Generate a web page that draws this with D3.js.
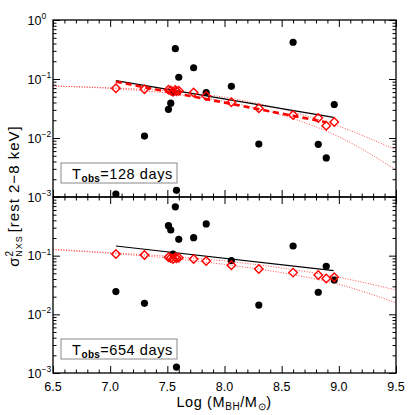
<!DOCTYPE html>
<html><head><meta charset="utf-8">
<script src="https://cdn.jsdelivr.net/npm/d3@7"></script>
<style>
body{margin:0;background:#fff}
svg{display:block}
text{font-family:"Liberation Sans",Arial,Helvetica,sans-serif;fill:#000}
</style>
</head><body>
<svg id="c" width="415" height="415"></svg>
<script>
// ---------------- data ----------------
const masses   = [7.05, 7.30, 7.51, 7.53, 7.55, 7.57, 7.58, 7.60, 7.73, 7.84, 8.06, 8.30, 8.60, 8.82, 8.89, 8.96];
const dots128  = [0.00112, 0.0108, 0.0306, 0.039, 0.060, 0.327, 0.0013, 0.107, 0.155, 0.059, 0.075, 0.0079, 0.42, 0.0078, 0.0046, 0.037];
const diam128  = [0.0695, 0.0669, 0.066, 0.064, 0.061, 0.065, 0.062, 0.063, 0.0588, 0.0515, 0.0403, 0.032, 0.0245, 0.0218, 0.0162, 0.0187];
const dots654  = [0.0244, 0.0154, 0.324, 0.274, 0.106, 0.68, 0.00126, 0.19, 0.203, 0.347, 0.082, 0.0144, 0.146, 0.0238, 0.066, 0.0385];
const diam654  = [0.107, 0.103, 0.094, 0.091, 0.088, 0.094, 0.090, 0.092, 0.088, 0.081, 0.0686, 0.0593, 0.0514, 0.0469, 0.0407, 0.0428];

const fitX     = [7.05, 8.955];
const fit128   = [0.094, 0.0224];
const fit654   = [0.146, 0.0555];
const dashX    = [7.05, 8.89];
const dash128  = [0.090, 0.0185];

const modelX      = [6.5, 7.0, 7.5, 8.0, 8.5, 9.0, 9.5];
const modelHi128  = [0.0759, 0.0708, 0.0631, 0.0490, 0.0309, 0.0158, 0.0063];
const modelLo128  = [0.0759, 0.0692, 0.0575, 0.0417, 0.0245, 0.0105, 0.00288];
const modelHi654  = [0.1288, 0.1122, 0.0977, 0.0813, 0.0617, 0.0427, 0.0260];
const modelLo654  = [0.1259, 0.1096, 0.0912, 0.0708, 0.0513, 0.0324, 0.0158];

const xMajorTicks = [6.5, 7.0, 7.5, 8.0, 8.5, 9.0, 9.5];
const yDecades    = [1, 0.1, 0.01, 0.001];
const panelLabels = ["128", "654"];

// ---------------- layout ----------------
const svg = d3.select("#c");
const L = 53, R = 396;
const panels = [
  {top: 20, bottom: 197, dots: dots128, diam: diam128, fit: fit128, dash: dash128, hi: modelHi128, lo: modelLo128, label: panelLabels[0], yLabels: [1, 0.1, 0.01, 0.001]},
  {top: 197, bottom: 373, dots: dots654, diam: diam654, fit: fit654, dash: null, hi: modelHi654, lo: modelLo654, label: panelLabels[1], yLabels: [0.1, 0.01, 0.001]}
];

const x = d3.scaleLinear().domain([6.5, 9.5]).range([L, R]);
const xMinor = d3.range(65, 96).map(v => v / 10).filter(v => !xMajorTicks.some(m => Math.abs(m - v) < 1e-6));
const supMinus = "\u2212";

panels.forEach((p, i) => {
  const y = d3.scaleLog().domain([0.001, 1]).range([p.bottom, p.top]);
  const yMinor = [];
  [0.001, 0.01, 0.1].forEach(d => { for (let k = 2; k <= 9; k++) yMinor.push(d * k); });

  const cid = "clip" + i;
  svg.append("clipPath").attr("id", cid).append("rect")
    .attr("x", L).attr("y", p.top).attr("width", R - L).attr("height", p.bottom - p.top);
  const g = svg.append("g").attr("clip-path", `url(#${cid})`);

  const line = d3.line().x(d => x(d[0])).y(d => y(d[1]));
  const curve = d3.line().x(d => x(d[0])).y(d => y(d[1])).curve(d3.curveMonotoneX);

  // model curves (dotted)
  [p.hi, p.lo].forEach(arr => {
    g.append("path").datum(modelX.map((v, k) => [v, arr[k]]))
      .attr("d", curve).attr("fill", "none")
      .attr("stroke", "#ff5050").attr("stroke-width", 1).attr("stroke-dasharray", "1,1.6");
  });

  // black points
  g.selectAll("circle.pt").data(masses.map((m, k) => [m, p.dots[k]])).enter()
    .append("circle").attr("class", "pt")
    .attr("cx", d => x(d[0])).attr("cy", d => y(d[1])).attr("r", 3.6).attr("fill", "#000");

  // black fit
  g.append("path").datum(fitX.map((v, k) => [v, p.fit[k]]))
    .attr("d", line).attr("fill", "none").attr("stroke", "#000").attr("stroke-width", 1.2);

  // red dashed
  if (p.dash) {
    g.append("path").datum(dashX.map((v, k) => [v, p.dash[k]]))
      .attr("d", line).attr("fill", "none").attr("stroke", "#ff0000")
      .attr("stroke-width", 2.6).attr("stroke-dasharray", "6,4");
  }

  // diamonds
  const sym = d3.symbol().type(d3.symbolDiamond2).size(46);
  g.selectAll("path.dm").data(masses.map((m, k) => [m, p.diam[k]])).enter()
    .append("path").attr("class", "dm")
    .attr("transform", d => `translate(${x(d[0])},${y(d[1])})`)
    .attr("d", sym).attr("fill", "none").attr("stroke", "#ff0000").attr("stroke-width", 1.4);

  // frame
  svg.append("rect").attr("x", L).attr("y", p.top).attr("width", R - L).attr("height", p.bottom - p.top)
    .attr("fill", "none").attr("stroke", "#000").attr("stroke-width", 1.3);

  // x ticks (inward) on bottom and top edges
  const axB = svg.append("g").attr("transform", `translate(0,${p.bottom})`)
    .call(d3.axisBottom(x).tickValues(xMajorTicks).tickSize(-7).tickFormat(""));
  const axBm = svg.append("g").attr("transform", `translate(0,${p.bottom})`)
    .call(d3.axisBottom(x).tickValues(xMinor).tickSize(-3.5).tickFormat(""));
  const axT = svg.append("g").attr("transform", `translate(0,${p.top})`)
    .call(d3.axisTop(x).tickValues(xMajorTicks).tickSize(-7).tickFormat(""));
  const axTm = svg.append("g").attr("transform", `translate(0,${p.top})`)
    .call(d3.axisTop(x).tickValues(xMinor).tickSize(-3.5).tickFormat(""));
  // y ticks
  const axL = svg.append("g").attr("transform", `translate(${L},0)`)
    .call(d3.axisLeft(y).tickValues(yDecades).tickSize(-7).tickFormat(""));
  const axLm = svg.append("g").attr("transform", `translate(${L},0)`)
    .call(d3.axisLeft(y).tickValues(yMinor).tickSize(-3.5).tickFormat(""));
  const axR = svg.append("g").attr("transform", `translate(${R},0)`)
    .call(d3.axisRight(y).tickValues(yDecades).tickSize(-7).tickFormat(""));
  const axRm = svg.append("g").attr("transform", `translate(${R},0)`)
    .call(d3.axisRight(y).tickValues(yMinor).tickSize(-3.5).tickFormat(""));
  [axB, axBm, axT, axTm, axL, axLm, axR, axRm].forEach(a => {
    a.select(".domain").remove();
    a.selectAll("line").attr("stroke", "#000").attr("stroke-width", 1);
  });

  // y tick labels 10^n
  p.yLabels.forEach(v => {
    const e = Math.round(Math.log10(v));
    svg.append("text").attr("x", 41.5).attr("y", y(v) + 4.5)
      .attr("text-anchor", "end").attr("font-size", 12.5).text("10");
    svg.append("text").attr("x", 41.5).attr("y", y(v) - 1)
      .attr("text-anchor", "start").attr("font-size", 8.5)
      .text(e === 0 ? "0" : supMinus + Math.abs(e));
  });

  // legend box
  const by = p.bottom - 34;
  svg.append("rect").attr("x", 61).attr("y", by).attr("width", 116).attr("height", 20)
    .attr("fill", "#fff").attr("stroke", "#888").attr("stroke-width", 1);
  const lt = svg.append("text").attr("x", 72).attr("y", by + 15.5).attr("font-size", 14.5)
    .attr("letter-spacing", 0.6);
  lt.append("tspan").text("T");
  lt.append("tspan").attr("font-size", 10).attr("dy", 3).attr("font-weight", "bold")
    .attr("letter-spacing", 0.3).text("obs");
  lt.append("tspan").attr("dy", -3).text("=" + p.label + " days");
});

// x tick labels
xMajorTicks.forEach(v => {
  svg.append("text").attr("x", x(v)).attr("y", 391).attr("text-anchor", "middle")
    .attr("font-size", 12.5).text(d3.format(".1f")(v));
});

// x axis title
const xt = svg.append("text").attr("x", 224).attr("y", 407).attr("text-anchor", "middle")
  .attr("font-size", 14.5).attr("letter-spacing", 0.6);
xt.append("tspan").text("Log (M");
xt.append("tspan").attr("font-size", 10).attr("dy", 3).text("BH");
xt.append("tspan").attr("dy", -3).text("/M");
xt.append("tspan").attr("font-size", 10).attr("dy", 3).text("\u2299");
xt.append("tspan").attr("dy", -3).text(")");

// y axis title
const yt = svg.append("text").attr("transform", "translate(19,196) rotate(-90)")
  .attr("text-anchor", "middle").attr("font-size", 15).attr("letter-spacing", 1);
yt.append("tspan").text("\u03C3");
yt.append("tspan").attr("font-size", 10).attr("dy", -6).text("2");
yt.append("tspan").attr("font-size", 9).attr("dy", 9).attr("dx", -7).text("NXS");
yt.append("tspan").attr("dy", -3).attr("dx", 3).text("[rest 2\u22128 keV]");
</script>
</body></html>
